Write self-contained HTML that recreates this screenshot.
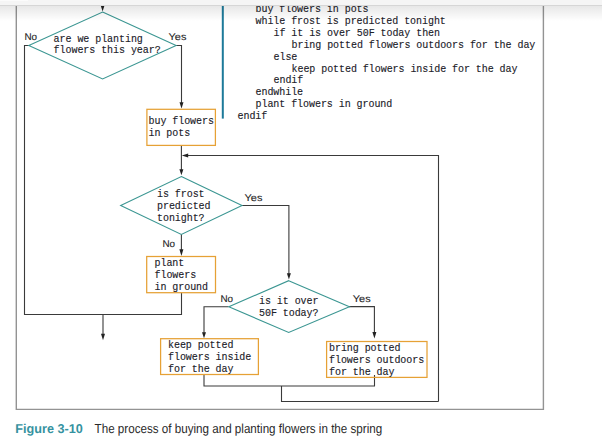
<!DOCTYPE html>
<html><head><meta charset="utf-8">
<style>
html,body{margin:0;padding:0;background:#fff;width:602px;height:438px;overflow:hidden}
svg{display:block}
.m{font-family:"Liberation Mono",monospace;font-size:10px;letter-spacing:-0.055px;fill:#202028;stroke:#202028;stroke-width:0.12px}
.s{font-family:"Liberation Sans",sans-serif;font-size:9.85px;fill:#1e1e1e;stroke:#1e1e1e;stroke-width:0.12px;text-rendering:geometricPrecision}
.ln{stroke:#3a3a3a;stroke-width:1.1;fill:none}
.dm{stroke:#3b9692;stroke-width:1.1;fill:none}
.bx{stroke:#e6a135;stroke-width:1.25;fill:none}
.ah{fill:#222}
</style></head><body>
<svg width="602" height="438" viewBox="0 0 602 438">
<defs>
<linearGradient id="sh" x1="0" y1="0" x2="0" y2="1">
<stop offset="0" stop-color="#000" stop-opacity="0.10"/>
<stop offset="1" stop-color="#000" stop-opacity="0"/>
</linearGradient>
</defs>
<!-- figure border -->
<path d="M16.3 0 V409.4 H543.4 V0" fill="none" stroke="#939393" stroke-width="1.4"/>
<!-- code block -->
<rect x="221.8" y="0" width="2" height="118.6" fill="#1d7a9a"/>
<g class="m">
<text x="255.5" y="12.3">buy flowers in pots</text>
<text x="255.5" y="24.2">while frost is predicted tonight</text>
<text x="273.5" y="36">if it is over 50F today then</text>
<text x="291.5" y="47.9">bring potted flowers outdoors for the day</text>
<text x="273.5" y="59.7">else</text>
<text x="291.5" y="71.6">keep potted flowers inside for the day</text>
<text x="273.5" y="83.4">endif</text>
<text x="255.5" y="95.3">endwhile</text>
<text x="255.5" y="107.1">plant flowers in ground</text>
<text x="237.5" y="119">endif</text>
</g>
<!-- flow lines -->
<g class="ln">
<path d="M102.6 0 V8"/>
<path d="M29 45.5 H24.5 V314.5 H181.5 V292.7"/>
<path d="M103 314.5 V335"/>
<path d="M176 45.5 H181.5 V103"/>
<path d="M181.4 145.4 V170"/>
<path d="M438.5 401.5 V155.5 H187"/>
<path d="M242 205.5 H288.9 V274"/>
<path d="M181.4 234.2 V250"/>
<path d="M228.5 306.8 H204 V333"/>
<path d="M349 306.6 H374.4 V333"/>
<path d="M204 374.5 V386 H374.5 V375"/>
<path d="M281.5 386 V401.5 H438.5"/>
</g>
<!-- arrowheads -->
<g class="ah">
<path d="M100.6 5 L104.6 5 L102.6 11.5 Z"/>
<path d="M179.5 102.3 L183.5 102.3 L181.5 108.6 Z"/>
<path d="M179.4 169.3 L183.4 169.3 L181.4 175.2 Z"/>
<path d="M188.2 153.6 L188.2 157.4 L181.8 155.5 Z"/>
<path d="M286.9 273.2 L290.9 273.2 L288.9 279.5 Z"/>
<path d="M179.4 249.2 L183.4 249.2 L181.4 256 Z"/>
<path d="M202 332.2 L206 332.2 L204 338.3 Z"/>
<path d="M372.4 332.1 L376.4 332.1 L374.4 338.6 Z"/>
<path d="M101 333.8 L105 333.8 L103 340.3 Z"/>
</g>
<!-- diamonds -->
<g class="dm">
<path d="M102.6 12 L176.1 45.5 L102.6 79 L28.8 45.5 Z"/>
<path d="M181.35 176.5 L242 205.4 L181.35 234.4 L120.7 205.4 Z"/>
<path d="M288.7 280.7 L349.4 306.7 L288.7 332.4 L228.8 306.8 Z"/>
</g>
<!-- boxes -->
<g class="bx">
<rect x="146.9" y="109.3" width="68.5" height="36.1"/>
<rect x="146.7" y="256.5" width="68.8" height="36.2"/>
<rect x="160.6" y="338.7" width="97.8" height="35.8"/>
<rect x="326.6" y="341.5" width="100.4" height="35.9"/>
</g>
<!-- node text -->
<g class="m">
<text x="53.6" y="42">are we planting</text>
<text x="53.6" y="53">flowers this year?</text>
<text x="148.5" y="123.8">buy flowers</text>
<text x="148.5" y="135.7">in pots</text>
<text x="157" y="196.6">is frost</text>
<text x="157" y="208.5">predicted</text>
<text x="157" y="220.5">tonight?</text>
<text x="154.5" y="266.2">plant</text>
<text x="154.5" y="278">flowers</text>
<text x="154.5" y="289.8">in ground</text>
<text x="259" y="303.8">is it over</text>
<text x="259" y="315.7">50F today?</text>
<text x="168" y="348.1">keep potted</text>
<text x="168" y="359.8">flowers inside</text>
<text x="168" y="371.5">for the day</text>
<text x="329" y="351.2">bring potted</text>
<text x="329" y="363">flowers outdoors</text>
<text x="329" y="374.7">for the day</text>
</g>
<!-- labels -->
<g class="s">
<text transform="translate(24.5 40)">No</text>
<text transform="translate(168.6 40)" textLength="17.8" lengthAdjust="spacingAndGlyphs">Yes</text>
<text transform="translate(244.6 200.8)" textLength="17.8" lengthAdjust="spacingAndGlyphs">Yes</text>
<text transform="translate(162.5 247)">No</text>
<text transform="translate(220.5 301.7)">No</text>
<text transform="translate(352.8 301.9)" textLength="17.8" lengthAdjust="spacingAndGlyphs">Yes</text>
</g>
<!-- caption -->
<text x="15.3" y="432.7" font-family="Liberation Sans" font-weight="bold" font-size="12.9" text-rendering="geometricPrecision" fill="#3592a0" textLength="67.6" lengthAdjust="spacingAndGlyphs">Figure 3-10</text>
<text x="94.6" y="432.7" font-family="Liberation Sans" font-size="13.1" text-rendering="geometricPrecision" fill="#2a2a2a" textLength="287.6" lengthAdjust="spacingAndGlyphs">The process of buying and planting flowers in the spring</text>
<!-- top toolbar band -->
<rect x="0" y="5" width="602" height="16" fill="url(#sh)"/>
<rect x="0" y="0" width="602" height="5" fill="#f5f5f5"/>
<rect x="0" y="5" width="602" height="1" fill="#d6d6d6"/>
<rect x="0" y="0" width="28" height="1" fill="#fbfbfb"/>
</svg>
</body></html>
